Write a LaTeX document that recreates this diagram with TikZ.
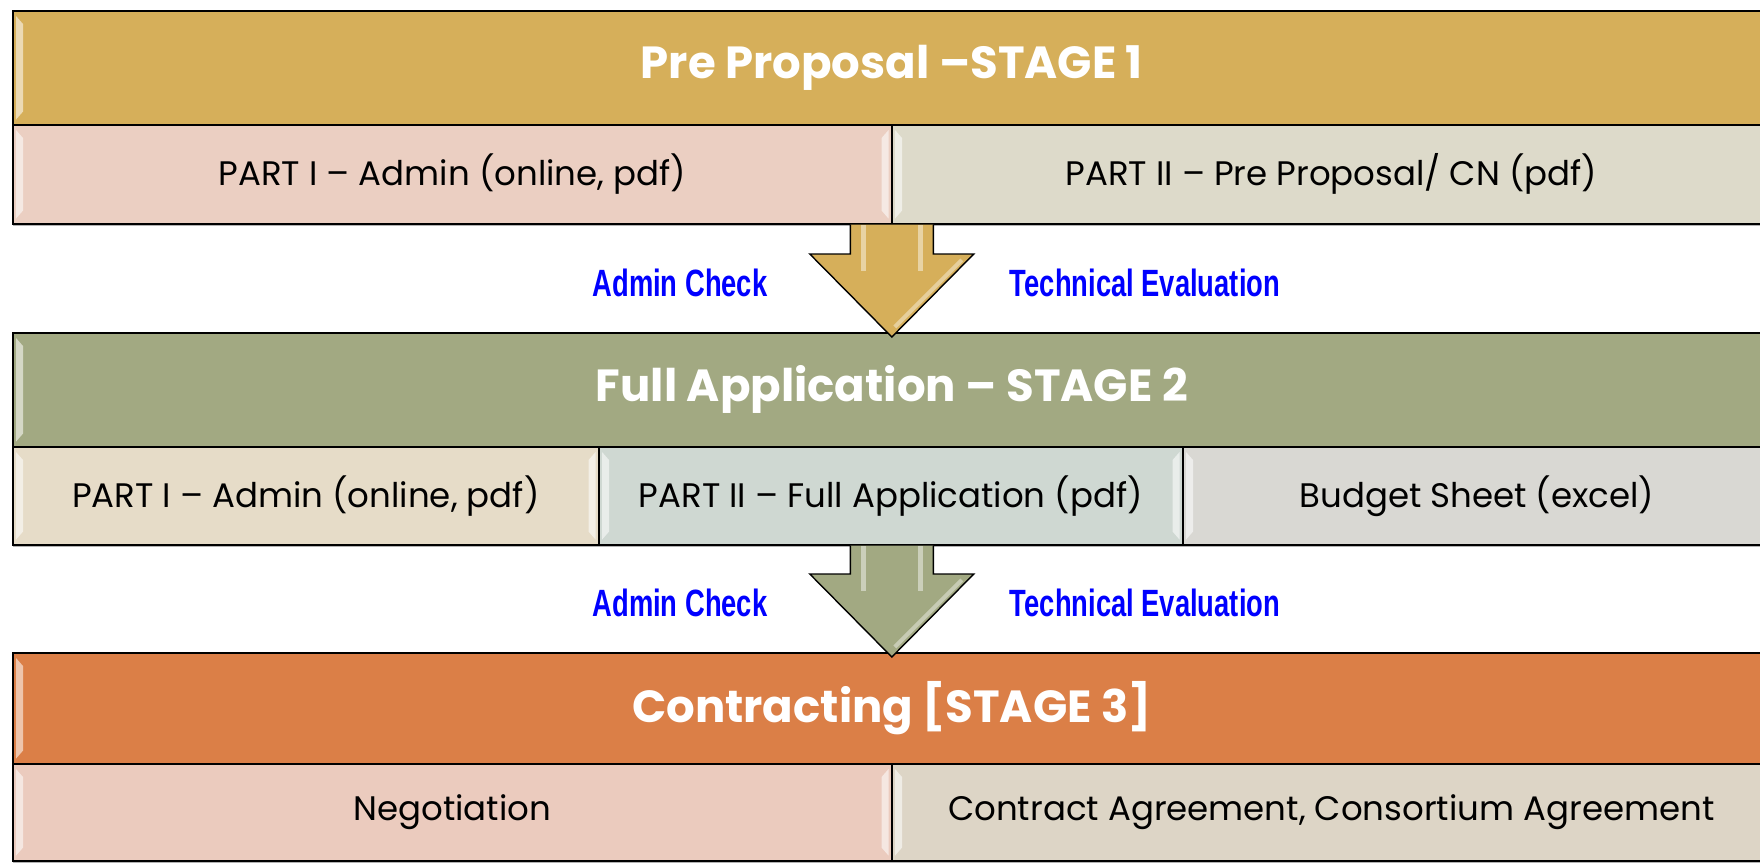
\documentclass[tikz,border=0pt]{standalone}
\usepackage{fontspec}
\setmainfont{Poppins}
\newfontfamily\lblfont[FakeStretch=0.72]{Liberation Sans}
\usetikzlibrary{calc}
\definecolor{hdrA}{HTML}{D6AF5A}
\definecolor{hdrB}{HTML}{A2A982}
\definecolor{hdrC}{HTML}{DB7F47}
\definecolor{pA}{HTML}{EBCFC2}
\definecolor{pB}{HTML}{DDDACA}
\definecolor{qA}{HTML}{E6DCC8}
\definecolor{qB}{HTML}{CFD8D2}
\definecolor{qC}{HTML}{D9D8D3}
\definecolor{rA}{HTML}{EBCBBE}
\definecolor{rB}{HTML}{DDD5C6}
\newcommand\mybevel[1]{%
  \fill[white,opacity=0.55] ($(#1.north west)+(4,6)$) -- ($(#1.north west)+(11,14)$) -- ($(#1.south west)+(11,-14)$) -- ($(#1.south west)+(4,-6)$) -- cycle;
  \fill[white,opacity=0.55] ($(#1.north east)+(-4,6)$) -- ($(#1.north east)+(-11,14)$) -- ($(#1.south east)+(-11,-14)$) -- ($(#1.south east)+(-4,-6)$) -- cycle;
}
\newcommand\blockarr[3]{%
  \draw[blockarrow,fill=#3] let \p1=(#1), \p2=(#2) in
    (\x2-41.5pt,\y1) -- (\x2-41.5pt,\y2+83pt) -- (\x2-82pt,\y2+83pt) -- (\x2,\y2)
    -- (\x2+82pt,\y2+83pt) -- (\x2+41.5pt,\y2+83pt) -- (\x2+41.5pt,\y1);
  \fill[white,opacity=0.45] let \p1=(#1), \p2=(#2) in
    (\x2-31pt,\y1) rectangle (\x2-26pt,\y2+66pt);
  \fill[white,opacity=0.45] let \p1=(#1), \p2=(#2) in
    (\x2+26pt,\y1) rectangle (\x2+31pt,\y2+66pt);
  \draw[white,opacity=0.4,line width=4pt] let \p2=(#2) in
    (\x2+70pt,\y2+77pt) -- (\x2+3pt,\y2+10pt);
}
\begin{document}
\begin{tikzpicture}[x=1pt,y=-1pt,
  cell/.style={draw=black,line width=1.6pt,inner sep=0pt,anchor=north west,
    font=\fontsize{34}{38}\selectfont,text=black},
  hdr/.style={cell,font=\fontsize{45}{50}\selectfont\bfseries,text=white},
  lbl/.style={font=\lblfont\bfseries\fontsize{38}{40}\selectfont,text=blue},
  blockarrow/.style={draw=black,line width=1.4pt,line join=miter},
  shadow/.style={fill=black!30}]
\clip (0,0) rectangle (1760,862);
\fill[white] (0,0) rectangle (1760,862);
% shadows
\fill[shadow] (13,13) rectangle (1772,226);
\fill[shadow] (13,335) rectangle (1772,547);
\fill[shadow] (13,655) rectangle (1772,863);
% stage 1
\node[hdr,fill=hdrA,minimum width=1758,minimum height=114] (s1h) at (12,10) {Pre Proposal --STAGE 1};
\node[cell,fill=pA,minimum width=879,minimum height=99] (s1a) at (12,124) {PART I -- Admin (online, pdf)};
\node[cell,fill=pB,minimum width=879,minimum height=99] (s1b) at (891,124) {PART II -- Pre Proposal/ CN (pdf)};
% stage 2
\node[hdr,fill=hdrB,minimum width=1758,minimum height=114] (s2h) at (12,332) {Full Application -- STAGE 2};
\node[cell,fill=qA,minimum width=586,minimum height=98] (s2a) at (12,446) {PART I -- Admin (online, pdf)};
\node[cell,fill=qB,minimum width=584,minimum height=98] (s2b) at (598,446) {PART II -- Full Application (pdf)};
\node[cell,fill=qC,minimum width=588,minimum height=98] (s2c) at (1182,446) {Budget Sheet (excel)};
% stage 3
\node[hdr,fill=hdrC,minimum width=1758,minimum height=111] (s3h) at (12,652) {Contracting [STAGE 3]};
\node[cell,fill=rA,minimum width=879,minimum height=97] (s3a) at (12,763) {Negotiation};
\node[cell,fill=rB,minimum width=879,minimum height=97] (s3b) at (891,763) {Contract Agreement, Consortium Agreement};
% bevels
\foreach \n in {s1h,s1a,s1b,s2h,s2a,s2b,s2c,s3h,s3a,s3b}{\mybevel{\n}}
% arrows
\coordinate (t1) at ($(s2h.north)+(0,5)$);
\coordinate (t2) at ($(s3h.north)+(0,5)$);
\blockarr{s1a.south east}{t1}{hdrA}
\blockarr{s2a.south east -| s2h.south}{t2}{hdrB}
% labels
\node[lbl] (l1a) at (680,283) {Admin Check};
\node[lbl] (l1b) at (1145,283) {Technical Evaluation};
\node[lbl] (l2a) at (680,603) {Admin Check};
\node[lbl] (l2b) at (1145,603) {Technical Evaluation};
\end{tikzpicture}
\end{document}
